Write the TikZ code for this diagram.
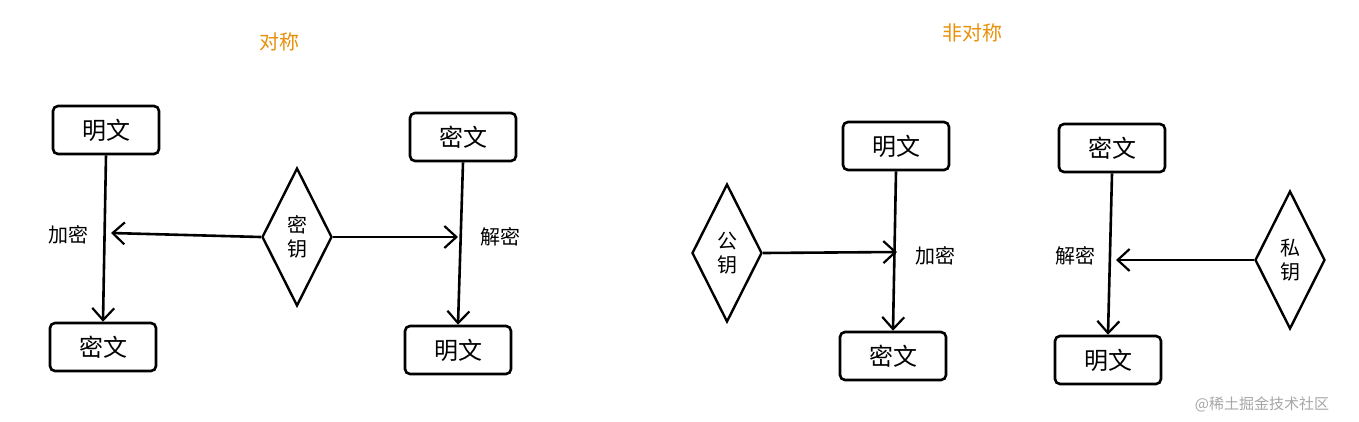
\documentclass[tikz,border=0pt]{standalone}
\usepackage{fontspec}
\setmainfont{Noto Sans CJK SC}
\usetikzlibrary{arrows.meta,shapes.geometric}
\begin{document}
\begin{tikzpicture}[x=1pt,y=-1pt,
  box/.style={draw,line width=2.6pt,rounded corners=5pt,minimum width=106pt,minimum height=48pt,font=\fontsize{24}{26}\selectfont,inner sep=0pt},
  dia/.style={draw,diamond,line width=2.4pt,minimum width=70pt,minimum height=138pt,inner sep=0pt,font=\fontsize{20}{24}\selectfont,align=center},
  arr/.style={line width=2.6pt,-{Straight Barb[length=12pt,width=22pt,line width=2.2pt]}},
  lbl/.style={font=\fontsize{20}{22}\selectfont},
  ttl/.style={font=\fontsize{20}{22}\selectfont,text={rgb,255:red,232;green,144;blue,10}}]
\useasboundingbox (0,0) rectangle (1359,421);
\node[ttl] at (279,42) {对称};
\node[ttl] at (972,33) {非对称};
% symmetric
\node[box] (p1) at (106,130) {明文};
\node[box] (c1) at (103,347) {密文};
\node[box] (c2) at (463,137) {密文};
\node[box] (p2) at (458,350) {明文};
\node[dia] (k1) at (297,237) {密\\钥};
\draw[arr] (p1.south) -- (c1.north);
\draw[arr] (c2.south) -- (p2.north);
\coordinate (m1) at (111,233);
\coordinate (m2) at (458,237);
\draw[arr] (k1.west) -- (m1);
\draw[arr] (k1.east) -- (m2);
\node[lbl] at (68,235) {加密};
\node[lbl] at (500,237) {解密};
% asymmetric
\node[box] (p3) at (896,146) {明文};
\node[box] (c3) at (893,356) {密文};
\node[box] (c4) at (1112,148) {密文};
\node[box] (p4) at (1108,360) {明文};
\node[dia] (k2) at (727,253) {公\\钥};
\node[dia] (k3) at (1290,260) {私\\钥};
\draw[arr] (p3.south) -- (c3.north);
\draw[arr] (c4.south) -- (p4.north);
\coordinate (m3) at (897,252);
\coordinate (m4) at (1116,260);
\draw[arr] (k2.east) -- (m3);
\draw[arr] (k3.west) -- (m4);
\node[lbl] at (935,256) {加密};
\node[lbl] at (1075,256) {解密};
\node[font=\fontsize{15}{17}\selectfont,text=gray!70] at (1262,404) {@稀土掘金技术社区};
\end{tikzpicture}
\end{document}
